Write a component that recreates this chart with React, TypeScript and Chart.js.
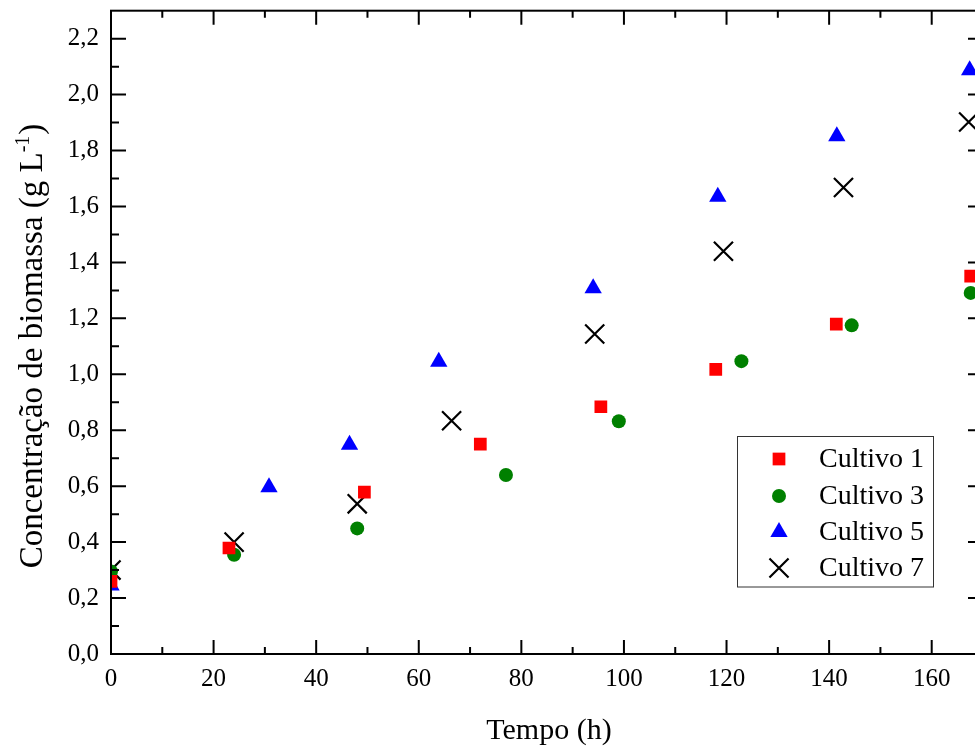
import React, { useEffect, useRef } from 'react';
import { Chart, registerables } from 'chart.js';
import { drawPoint } from 'chart.js/helpers';

Chart.register(...registerables);

// ---- data ----
const seriesNames = ['Cultivo 1', 'Cultivo 3', 'Cultivo 5', 'Cultivo 7'];

const cultivo1X = [0, 23.0, 49.4, 72.0, 95.5, 117.9, 141.4, 167.6];
const cultivo1Y = [0.26, 0.379, 0.579, 0.75, 0.884, 1.018, 1.179, 1.351];

const cultivo3X = [0, 24.0, 48.0, 77.0, 99.0, 122.9, 144.4, 167.6];
const cultivo3Y = [0.295, 0.355, 0.449, 0.64, 0.832, 1.047, 1.175, 1.291];

const cultivo5X = [0, 30.8, 46.5, 63.9, 94.0, 118.3, 141.5, 167.4];
const cultivo5Y = [0.245, 0.596, 0.748, 1.045, 1.308, 1.635, 1.851, 2.087];

const cultivo7X = [0, 24.0, 48.0, 66.4, 94.3, 119.4, 142.8, 167.2];
const cultivo7Y = [0.30, 0.40, 0.537, 0.834, 1.144, 1.44, 1.668, 1.902];

const xMin = 0;
const xMax = 170;
const yMin = 0;
const yMax = 2.3;
const xMajorStep = 20;
const xMinorStep = 10;
const yMajorStep = 0.2;
const yMinorStep = 0.1;

const xTitle = 'Tempo (h)';
const yTitleMain = 'Concentração de biomassa (g L';
const yTitleSup = '-1';
const yTitleEnd = ')';

const FONT = '"Liberation Serif", "Times New Roman", serif';
const SHIFT = 5; // canvas is shifted up by this many px

const styles = [
  { pointStyle: 'rect', radius: 9, fill: '#ff0000', stroke: '#ff0000', bw: 0 },
  { pointStyle: 'circle', radius: 7, fill: '#008000', stroke: '#008000', bw: 0 },
  { pointStyle: 'triangle', radius: 10, fill: '#0000ff', stroke: '#0000ff', bw: 0 },
  { pointStyle: 'crossRot', radius: 13.5, fill: 'rgba(0,0,0,0)', stroke: '#000000', bw: 2.2 },
];

const toPoints = (xs: number[], ys: number[]) => xs.map((x, i) => ({ x, y: ys[i] }));

const frameTicksPlugin = {
  id: 'frameTicks',
  afterDatasetsDraw(chart: any) {
    const { ctx, chartArea: a, scales } = chart;
    const xs = scales.x;
    const ys = scales.y;
    ctx.save();
    ctx.strokeStyle = '#000';
    ctx.lineWidth = 2;
    ctx.beginPath();
    const nx = Math.round((xMax - xMin) / xMinorStep);
    for (let k = 1; k < nx; k++) {
      const v = xMin + k * xMinorStep;
      const px = xs.getPixelForValue(v);
      const major = Math.abs(v / xMajorStep - Math.round(v / xMajorStep)) < 1e-6;
      const len = major ? 14 : 7;
      ctx.moveTo(px, a.bottom);
      ctx.lineTo(px, a.bottom - len);
      ctx.moveTo(px, a.top);
      ctx.lineTo(px, a.top + len);
    }
    const ny = Math.round((yMax - yMin) / yMinorStep);
    for (let k = 1; k < ny; k++) {
      const v = yMin + k * yMinorStep;
      const py = ys.getPixelForValue(v);
      const major = k % Math.round(yMajorStep / yMinorStep) === 0;
      const len = major ? 15 : 8;
      ctx.moveTo(a.left, py);
      ctx.lineTo(a.left + len, py);
      ctx.moveTo(a.right, py);
      ctx.lineTo(a.right - len, py);
    }
    ctx.stroke();
    ctx.strokeRect(a.left, a.top, a.right - a.left, a.bottom - a.top);
    ctx.restore();
  },
  afterDraw(chart: any) {
    const { ctx, chartArea: a } = chart;
    ctx.save();
    ctx.fillStyle = '#000';
    // x title
    ctx.font = `30px ${FONT}`;
    ctx.textAlign = 'center';
    ctx.textBaseline = 'alphabetic';
    ctx.fillText(xTitle, (a.left + a.right) / 2 + 2, 739 + SHIFT);

    // y title (rotated) with superscript
    const mainFont = `33px ${FONT}`;
    const supFont = `20px ${FONT}`;
    ctx.font = mainFont;
    const w1 = ctx.measureText(yTitleMain).width;
    const w3 = ctx.measureText(yTitleEnd).width;
    ctx.font = supFont;
    const w2 = ctx.measureText(yTitleSup).width;
    const total = w1 + w2 + w3 + 1;
    ctx.translate(42, 346 + SHIFT);
    ctx.rotate(-Math.PI / 2);
    ctx.textAlign = 'left';
    let x0 = -total / 2;
    ctx.font = mainFont;
    ctx.fillText(yTitleMain, x0, 0);
    x0 += w1;
    ctx.font = supFont;
    ctx.fillText(yTitleSup, x0, -13);
    x0 += w2 + 1;
    ctx.font = mainFont;
    ctx.fillText(yTitleEnd, x0, 0);
    ctx.restore();

    // legend
    ctx.save();
    const bx = 737, by = 436.5 + SHIFT, bw = 196, bh = 150.5;
    ctx.fillStyle = '#fff';
    ctx.fillRect(bx, by, bw, bh);
    ctx.strokeStyle = '#333';
    ctx.lineWidth = 1;
    ctx.strokeRect(bx + 0.5, by, bw, bh);
    const rows = [459, 496, 532, 568];
    ctx.font = `28px ${FONT}`;
    ctx.textAlign = 'left';
    ctx.textBaseline = 'middle';
    seriesNames.forEach((name, i) => {
      const s = styles[i];
      const ry = rows[i] + SHIFT;
      ctx.fillStyle = s.fill;
      ctx.strokeStyle = s.stroke;
      ctx.lineWidth = s.bw;
      drawPoint(ctx, { pointStyle: s.pointStyle as any, radius: s.radius, rotation: 0, borderWidth: s.bw }, 779, ry);
      ctx.fillStyle = '#000';
      ctx.fillText(name, 819, ry + 1);
    });
    ctx.restore();
  },
};

export default function App() {
  const ref = useRef<HTMLCanvasElement | null>(null);

  useEffect(() => {
    if (!ref.current) return;
    const seriesX = [cultivo1X, cultivo3X, cultivo5X, cultivo7X];
    const seriesY = [cultivo1Y, cultivo3Y, cultivo5Y, cultivo7Y];
    const chart = new Chart(ref.current, {
      type: 'scatter',
      data: {
        datasets: seriesNames.map((name, i) => ({
          label: name,
          data: toPoints(seriesX[i], seriesY[i]),
          pointStyle: styles[i].pointStyle as any,
          pointRadius: styles[i].radius,
          pointHoverRadius: styles[i].radius,
          pointBackgroundColor: styles[i].fill,
          pointBorderColor: styles[i].stroke,
          pointBorderWidth: styles[i].bw,
          showLine: false,
          clip: 0,
        })),
      },
      options: {
        animation: false,
        responsive: false,
        devicePixelRatio: 1,
        layout: { padding: { top: 5, right: 17, left: 0, bottom: 0 } },
        plugins: {
          legend: { display: false },
          tooltip: { enabled: false },
        },
        scales: {
          x: {
            type: 'linear',
            min: xMin,
            max: xMax,
            grid: { display: false, drawTicks: false },
            border: { display: false },
            ticks: {
              stepSize: xMajorStep,
              includeBounds: false,
              color: '#000',
              padding: 10,
              maxRotation: 0,
              font: { family: FONT, size: 25 },
              callback: (v: any) => String(v),
            },
            afterFit: (s: any) => {
              s.height = 95;
              s.paddingLeft = 0;
              s.paddingRight = 0;
              s.paddingTop = 0;
              s.paddingBottom = 0;
            },
          },
          y: {
            type: 'linear',
            min: yMin,
            max: yMax,
            grid: { display: false, drawTicks: false },
            border: { display: false },
            ticks: {
              stepSize: yMajorStep,
              includeBounds: false,
              color: '#000',
              padding: 12,
              font: { family: FONT, size: 25 },
              callback: (v: any) => Number(v).toFixed(1).replace('.', ','),
            },
            afterFit: (s: any) => {
              s.width = 111;
              s.paddingLeft = 0;
              s.paddingRight = 0;
              s.paddingTop = 0;
              s.paddingBottom = 0;
            },
          },
        },
      },
      plugins: [frameTicksPlugin],
    });
    return () => chart.destroy();
  }, []);

  return (
    <div
      style={{
        position: 'fixed',
        left: 0,
        top: 0,
        width: 975,
        height: 749,
        overflow: 'hidden',
        background: '#fff',
      }}
    >
      <canvas
        ref={ref}
        width={1000}
        height={749 + SHIFT}
        style={{ display: 'block', width: 1000, height: 749 + SHIFT, marginTop: -SHIFT }}
      />
    </div>
  );
}
